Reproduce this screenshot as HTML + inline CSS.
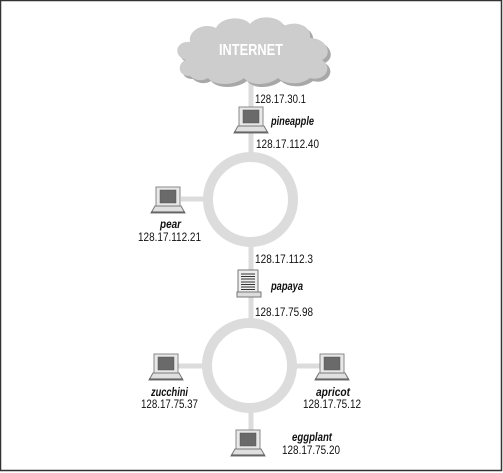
<!DOCTYPE html>
<html><head><meta charset="utf-8"><style>
html,body{margin:0;padding:0;background:#fff}
svg{display:block}
text{font-family:"Liberation Sans Narrow","Liberation Sans",sans-serif;font-size:12px;fill:#111}
.n{font-weight:bold;font-style:italic}
</style></head><body>
<svg width="503" height="473" viewBox="0 0 503 473" xmlns="http://www.w3.org/2000/svg">
<defs>
<g id="pc">
  <rect x="0" y="0" width="24" height="19" fill="#e8e8e8" stroke="#888" stroke-width="1"/>
  <rect x="4" y="3" width="16" height="13" fill="#6a6a6a" stroke="#555" stroke-width="0.5"/>
  <path d="M-1 19 L25 19 L29 26 L-5 26 Z" fill="#e0e0e0" stroke="#777" stroke-width="1"/>
  <line x1="-5" y1="25" x2="29" y2="25" stroke="#555" stroke-width="1"/>
</g>
</defs>
<rect x="0.5" y="0.5" width="501" height="470" fill="#fff" stroke="#333" stroke-width="1.5"/>
<g stroke="#dcdcdc" stroke-width="5" fill="none">
  <line x1="251" y1="75" x2="251" y2="430"/>
  <line x1="181" y1="199" x2="208" y2="199"/>
  <line x1="178" y1="366" x2="207" y2="366"/>
  <line x1="292" y1="366" x2="320" y2="366"/>
</g>
<g stroke="#dcdcdc" stroke-width="10" fill="#fff">
  <circle cx="250.5" cy="199.5" r="42.5"/>
  <circle cx="249.5" cy="365.5" r="42.5"/>
</g>
<path d="M190 76 C176 76 178 62 186 60 C172 56 176 40 190 42 C188 30 204 22 216 28 C222 16 244 16 250 24 C258 14 280 16 284 26 C296 20 312 26 310 38 C326 38 334 54 322 60 C334 68 324 82 310 78 C300 86 284 84 278 78 C268 86 250 86 244 78 C234 86 214 86 208 78 C202 82 194 80 190 76 Z" transform="translate(3,3)" fill="#a8a8a8"/>
<path d="M190 76 C176 76 178 62 186 60 C172 56 176 40 190 42 C188 30 204 22 216 28 C222 16 244 16 250 24 C258 14 280 16 284 26 C296 20 312 26 310 38 C326 38 334 54 322 60 C334 68 324 82 310 78 C300 86 284 84 278 78 C268 86 250 86 244 78 C234 86 214 86 208 78 C202 82 194 80 190 76 Z" fill="#cdcdcd"/>
<text x="251" y="55" text-anchor="middle" style="font-size:16px;font-weight:bold;fill:#fff" textLength="64" lengthAdjust="spacingAndGlyphs">INTERNET</text>
<use href="#pc" x="239" y="107"/>
<use href="#pc" x="156" y="187"/>
<use href="#pc" x="154" y="354"/>
<use href="#pc" x="320" y="354"/>
<use href="#pc" x="236" y="430"/>
<g>
  <rect x="238" y="270" width="20" height="22" fill="#eee" stroke="#777"/>
  <g stroke="#333" stroke-width="1">
    <line x1="241" y1="274" x2="255" y2="274"/><line x1="241" y1="276.5" x2="255" y2="276.5"/>
    <line x1="241" y1="279" x2="255" y2="279"/><line x1="241" y1="282" x2="255" y2="282"/>
    <line x1="241" y1="284.5" x2="255" y2="284.5"/><line x1="241" y1="287" x2="255" y2="287"/>
    <line x1="241" y1="289.5" x2="255" y2="289.5"/>
  </g>
  <rect x="237" y="292" width="24" height="5" fill="#ddd" stroke="#777"/>
</g>
<text x="255" y="103" textLength="51" lengthAdjust="spacingAndGlyphs">128.17.30.1</text>
<text class="n" x="271" y="125" textLength="43" lengthAdjust="spacingAndGlyphs">pineapple</text>
<text x="256" y="148" textLength="63" lengthAdjust="spacingAndGlyphs">128.17.112.40</text>
<text class="n" x="160" y="228" textLength="21" lengthAdjust="spacingAndGlyphs">pear</text>
<text x="138" y="241" textLength="63" lengthAdjust="spacingAndGlyphs">128.17.112.21</text>
<text x="255" y="263" textLength="58" lengthAdjust="spacingAndGlyphs">128.17.112.3</text>
<text class="n" x="271" y="290" textLength="32" lengthAdjust="spacingAndGlyphs">papaya</text>
<text x="255" y="316" textLength="58" lengthAdjust="spacingAndGlyphs">128.17.75.98</text>
<text class="n" x="151" y="396" textLength="37" lengthAdjust="spacingAndGlyphs">zucchini</text>
<text x="141" y="408" textLength="57" lengthAdjust="spacingAndGlyphs">128.17.75.37</text>
<text class="n" x="316" y="396" textLength="34" lengthAdjust="spacingAndGlyphs">apricot</text>
<text x="303" y="408" textLength="58" lengthAdjust="spacingAndGlyphs">128.17.75.12</text>
<text class="n" x="292" y="441" textLength="40" lengthAdjust="spacingAndGlyphs">eggplant</text>
<text x="282" y="454" textLength="58" lengthAdjust="spacingAndGlyphs">128.17.75.20</text>
</svg>
</body></html>
